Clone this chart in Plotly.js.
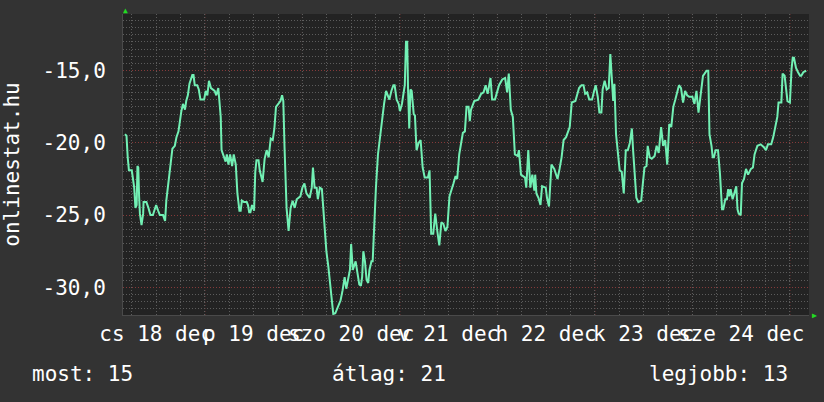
<!DOCTYPE html>
<html>
<head>
<meta charset="utf-8">
<script src="https://cdn.plot.ly/plotly-3.0.1.min.js"></script>
<style>html,body{margin:0;padding:0;background:#333333;}#chart{width:824px;height:402px;}</style>
</head>
<body>
<div id="chart"></div>
<script>
// hours since 18 Dec 00:00
const hours = [
4.3,4.7,5.0,5.3,6.0,6.3,6.6,6.9,7.2,7.4,7.6,7.8,8.0,8.4,8.8,8.9,9.6,10.1,10.6,11.2,
12.0,12.5,12.9,13.7,14.2,14.5,14.9,15.3,15.7,16.0,16.6,17.0,17.5,17.8,18.2,18.6,19.1,19.4,19.8,20.2,
20.7,20.9,21.2,21.5,22.1,22.5,22.9,23.8,24.2,24.6,25.0,25.5,26.4,26.8,27.3,27.6,27.9,28.1,28.6,29.1,
29.4,29.8,30.2,30.7,31.1,31.6,32.0,32.5,32.8,33.1,33.6,34.3,34.6,34.9,35.2,35.6,36.1,36.4,36.7,37.2,
37.5,38.2,38.7,39.2,39.7,40.2,40.7,41.1,41.5,42.1,42.6,43.0,43.3,43.6,44.1,44.6,45.1,45.6,46.1,46.6,
47.0,47.5,48.0,48.5,49.0,49.8,50.3,50.6,51.0,51.5,51.8,52.3,52.8,53.3,53.9,54.4,54.9,55.2,55.6,56.1,
56.7,57.4,57.9,58.4,58.8,59.3,59.7,60.0,60.4,61.1,61.6,62.0,62.4,62.7,63.0,63.4,63.8,64.2,64.5,65.0,
65.3,65.7,66.1,66.6,67.1,67.6,68.1,68.6,68.9,69.4,69.9,70.4,70.7,71.2,71.7,72.0,72.5,72.9,73.2,73.5,
73.8,74.0,74.3,74.6,74.9,75.4,75.7,76.1,76.6,77.1,77.6,78.1,78.9,79.3,79.7,80.2,80.7,81.2,81.7,82.2,
82.7,83.2,83.7,84.2,84.7,85.2,85.7,86.1,86.6,87.0,87.5,88.0,88.4,88.9,89.2,89.5,90.3,91.3,92.0,92.6,
93.1,93.6,94.3,94.7,95.4,95.9,96.4,97.2,97.9,98.4,98.8,99.3,99.8,100.3,101.0,101.3,101.8,102.3,102.8,103.1,
103.6,104.1,104.6,105.1,105.3,105.6,106.1,106.6,107.0,107.9,108.2,108.7,109.3,110.0,110.8,111.3,111.8,112.3,112.9,113.8,
114.3,115.2,116.1,116.7,117.2,117.6,118.1,118.6,119.3,119.8,120.2,120.7,121.1,121.6,121.9,122.4,122.9,123.4,123.8,124.2,
124.5,124.8,125.2,125.7,126.1,126.6,127.1,127.6,128.1,128.6,129.1,129.4,129.8,130.2,130.7,131.4,131.7,132.2,132.7,133.0,
133.5,134.0,134.7,135.2,135.7,136.3,136.8,137.3,137.8,138.3,138.8,139.3,139.8,140.1,140.7,141.2,141.7,142.2,142.7,143.2,
144.0,144.5,145.0,145.5,146.1,146.2,146.6,147.0,147.5,147.9,148.2,148.7,149.0,149.3,149.7,150.3,150.8,151.3,151.6,152.1,
152.5,152.8,153.1,153.4,153.9,154.3,154.8,155.1,155.4,155.9,156.2,156.7,157.2,157.7,158.4,158.9,159.3,160.0,160.8,161.6,
162.1,162.6,163.4,163.9,164.4,164.9,165.2,165.9,166.2,166.7,167.4,168.0,168.4,168.7,169.0,169.5,170.0,170.5,170.8,171.3,
172.0
];
const values = [
-19.4,-19.5,-21.0,-21.9,-21.9,-22.4,-23.1,-24.5,-24.3,-21.6,-21.7,-23.7,-24.9,-25.7,-24.9,-24.1,-24.1,-24.5,-25.0,-25.0,
-24.3,-24.7,-25.0,-25.0,-25.4,-24.0,-23.1,-22.3,-21.0,-20.4,-20.2,-19.6,-19.2,-18.5,-17.8,-17.3,-17.7,-17.1,-16.7,-15.9,
-15.5,-15.3,-15.3,-16.0,-16.0,-16.3,-17.0,-17.0,-16.4,-16.7,-15.7,-16.2,-16.4,-16.7,-16.2,-17.1,-18.2,-20.5,-20.9,-21.3,
-20.8,-21.5,-20.8,-21.6,-20.8,-21.5,-23.5,-24.7,-24.7,-24.0,-24.1,-24.1,-24.3,-24.8,-24.8,-24.3,-24.7,-22.0,-21.2,-21.2,
-21.9,-22.7,-21.1,-20.5,-21.0,-19.7,-19.8,-19.0,-17.5,-17.3,-17.1,-16.7,-17.1,-20.3,-24.5,-26.1,-24.5,-24.0,-24.5,-23.9,
-23.8,-23.7,-23.1,-22.8,-23.5,-23.8,-23.1,-21.7,-23.1,-23.1,-23.9,-23.1,-23.2,-25.2,-27.5,-28.6,-30.0,-30.9,-31.85,-31.8,
-31.4,-30.9,-30.2,-29.3,-30.1,-29.3,-28.8,-27.0,-28.8,-28.2,-29.3,-29.8,-29.9,-29.3,-27.5,-28.2,-29.5,-29.7,-28.8,-28.2,
-28.2,-25.2,-23.1,-20.8,-19.6,-18.2,-17.3,-16.4,-16.6,-17.0,-16.4,-16.0,-16.0,-17.0,-17.3,-17.8,-17.3,-16.4,-16.0,-13.0,
-13.0,-16.2,-19.0,-16.3,-16.4,-18.0,-18.1,-20.5,-20.0,-19.8,-21.7,-22.4,-22.4,-21.9,-26.3,-26.3,-24.9,-26.1,-27.1,-25.5,
-25.6,-26.1,-25.8,-23.7,-23.3,-22.8,-22.3,-22.5,-20.8,-20.1,-19.3,-19.2,-17.5,-17.5,-18.5,-17.7,-17.1,-17.0,-16.6,-16.5,
-16.0,-16.6,-15.5,-17.0,-17.0,-16.5,-16.0,-15.6,-15.5,-16.5,-15.2,-17.7,-18.2,-20.8,-20.9,-20.5,-22.2,-22.3,-22.4,-23.1,
-20.5,-23.1,-22.2,-23.3,-22.2,-23.5,-23.8,-24.3,-23.0,-23.1,-23.8,-24.4,-21.5,-21.8,-22.5,-21.8,-21.0,-19.8,-19.6,-18.9,
-17.2,-17.1,-16.2,-16.0,-16.0,-16.6,-16.5,-17.0,-17.0,-16.4,-16.0,-16.8,-17.9,-17.9,-16.3,-15.7,-16.3,-16.2,-13.85,-15.7,
-17.1,-15.9,-19.4,-20.8,-21.9,-22.0,-23.5,-20.5,-20.5,-20.0,-19.0,-20.5,-21.9,-23.8,-24.1,-24.0,-23.1,-21.7,-21.6,-20.2,
-21.0,-21.1,-20.9,-20.2,-20.7,-18.9,-20.2,-19.8,-21.5,-18.7,-18.9,-17.5,-17.0,-16.6,-16.0,-16.2,-17.2,-16.4,-16.7,-16.8,
-16.8,-17.3,-16.4,-17.9,-16.4,-16.0,-15.35,-15.2,-15.0,-15.0,-19.4,-20.2,-21.0,-21.0,-20.5,-20.5,-22.2,-24.6,-24.6,-23.9,
-23.9,-23.2,-23.7,-23.2,-23.9,-23.5,-23.0,-24.6,-24.9,-25.0,-22.8,-22.5,-21.8,-22.2,-21.8,-21.7,-20.8,-20.2,-20.1,-20.3,
-20.5,-20.1,-20.1,-19.6,-19.0,-18.2,-17.2,-17.2,-15.2,-15.35,-17.1,-17.2,-14.9,-14.1,-14.1,-14.8,-15.1,-15.35,-15.35,-15.1,
-15.0
];
const dayStarts = [24, 48, 72, 96, 120, 144, 168];
const labelHours = [12, 36, 60, 84, 108, 132, 156];
const dayLabels = ["cs 18 dec", "p 19 dec", "szo 20 dec", "v 21 dec", "h 22 dec", "k 23 dec", "sze 24 dec"];
const yTicks = [-30, -25, -20, -15];
const yTickText = ["-30,0", "-25,0", "-20,0", "-15,0"];
const stats = ["most: 15", "átlag: 21", "legjobb: 13"];

const FONT = "DejaVu Sans Mono";
const minorGrid = "#5c5c5c";
const majorGrid = "#853a3a";
const dots = "1px,2px";

const trace = {
  x: hours, y: values, type: "scatter", mode: "lines",
  line: {color: "#72f0b4", width: 2}, hoverinfo: "skip"
};

const shapes = dayStarts.map(h => ({
  type: "line", xref: "x", yref: "paper", x0: h, x1: h, y0: 0, y1: 1,
  line: {color: majorGrid, width: 1, dash: dots}, layer: "below"
}));

const statX = [-0.1356, 0.3017, 0.7638];
const annotations = stats.map((s, i) => ({
  text: s, xref: "paper", yref: "paper", x: statX[i], y: -0.196,
  xanchor: "left", yanchor: "middle", showarrow: false,
  font: {family: FONT, size: 21, color: "#ffffff"}
}));
annotations.push({text: "▲", xref: "paper", yref: "paper", x: 0.003, y: 1.013,
  xanchor: "center", yanchor: "middle", showarrow: false, font: {size: 8, color: "#22dd22"}});
annotations.push({text: "▶", xref: "paper", yref: "paper", x: 1.0075, y: 0,
  xanchor: "center", yanchor: "middle", showarrow: false, font: {size: 8, color: "#22dd22"}});

const layout = {
  width: 824, height: 402,
  margin: {l: 123, r: 15, t: 14, b: 87},
  paper_bgcolor: "#333333", plot_bgcolor: "#232323",
  showlegend: false,
  font: {family: FONT, color: "#ffffff", size: 21},
  xaxis: {
    range: [3.84, 172.7], tickmode: "array", tickvals: labelHours, ticktext: dayLabels,
    tickangle: 0, showgrid: false, zeroline: false, ticks: "", showline: true, linecolor: "#4a4a4a",
    tickfont: {family: FONT, size: 21, color: "#ffffff"},
    minor: {tickmode: "linear", tick0: 0, dtick: 6, showgrid: true, gridcolor: minorGrid, griddash: dots, gridwidth: 1},
    fixedrange: true
  },
  yaxis: {
    range: [-31.92, -11.07], tickmode: "array", tickvals: yTicks, ticktext: yTickText,
    showgrid: true, gridcolor: majorGrid, griddash: dots, gridwidth: 1, zeroline: false,
    ticks: "", ticklabelstandoff: 12, showline: true, linecolor: "#4a4a4a",
    tickfont: {family: FONT, size: 21, color: "#ffffff"},
    minor: {tickmode: "linear", tick0: 0, dtick: 0.5, showgrid: true, gridcolor: minorGrid, griddash: dots, gridwidth: 1},
    title: {text: "onlinestat.hu", font: {family: FONT, size: 21, color: "#ffffff"}, standoff: 17},
    fixedrange: true
  },
  shapes: shapes,
  annotations: annotations
};

Plotly.newPlot("chart", [trace], layout, {staticPlot: true, displayModeBar: false});
</script>
</body>
</html>
